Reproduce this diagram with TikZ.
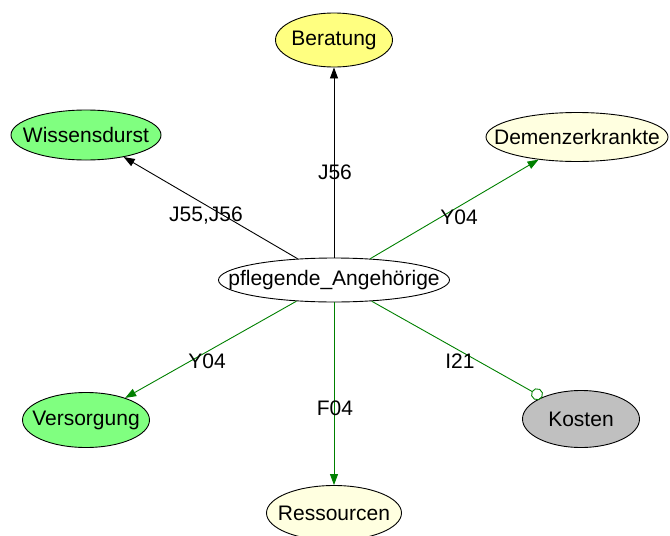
\documentclass[tikz,border=0pt]{standalone}
\usepackage{fontspec}
\setmainfont{Liberation Sans}
\usetikzlibrary{shapes.geometric,arrows.meta}
\definecolor{nodeyellow}{HTML}{FFFF80}
\definecolor{nodegreen}{HTML}{80FF80}
\definecolor{nodecream}{HTML}{FFFFE0}
\definecolor{nodegray}{HTML}{C0C0C0}
\definecolor{edgegreen}{HTML}{008000}
% zero-width box so the ellipse takes its size from minimum width/height only
\newcommand{\ctext}[1]{\makebox[0pt][c]{#1}}
\tikzset{
  topic/.style={ellipse, draw=black, line width=0.9pt, inner sep=0pt,
    font=\fontsize{21}{24}\selectfont},
  elabel/.style={font=\fontsize{21}{24}\selectfont, inner sep=0pt},
  link/.style={line width=0.9pt},
  tip/.style={-{Triangle[length=11pt,width=8pt]}},
  ring/.style={-{Circle[open,length=12pt,width=12pt,fill=white]}},
}
\begin{document}
\begin{tikzpicture}[x=1pt,y=-1pt]
\useasboundingbox (0,0) rectangle (670,536);
% nodes
\node[topic, fill=white, minimum width=231pt, minimum height=44pt] (center) at (334,280) {\ctext{pflegende\_Angehörige}};
\node[topic, fill=nodeyellow, minimum width=117pt, minimum height=54pt] (berat) at (334,40) {\ctext{Beratung}};
\node[topic, fill=nodegreen, minimum width=150pt, minimum height=50pt] (wiss) at (86,135) {\ctext{Wissensdurst}};
\node[topic, fill=nodecream, minimum width=182pt, minimum height=49pt] (dem) at (577,137) {\ctext{Demenzerkrankte}};
\node[topic, fill=nodegreen, minimum width=127pt, minimum height=55pt] (vers) at (86,420) {\ctext{Versorgung}};
\node[topic, fill=nodegray, minimum width=117pt, minimum height=57pt] (kost) at (581,419) {\ctext{Kosten}};
\node[topic, fill=nodecream, minimum width=135pt, minimum height=55pt] (ress) at (334,513) {\ctext{Ressourcen}};
% connectors
\draw[link, tip] (center) -- (berat);
\draw[link, tip] (center) -- (wiss);
\draw[link, tip, edgegreen] (center) -- (dem);
\draw[link, tip, edgegreen] (center) -- (vers);
\draw[link, tip, edgegreen] (center) -- (ress);
\draw[link, ring, edgegreen] (center) -- (kost);
% connector labels
\node[elabel] (lberat) at (335,172) {J56};
\node[elabel] (lwiss) at (206,216) {J55,J56};
\node[elabel] (ldem) at (459,217) {Y04};
\node[elabel] (lvers) at (207,361) {Y04};
\node[elabel] (lress) at (335,408) {F04};
\node[elabel] (lkost) at (460,361) {I21};
\end{tikzpicture}
\end{document}
